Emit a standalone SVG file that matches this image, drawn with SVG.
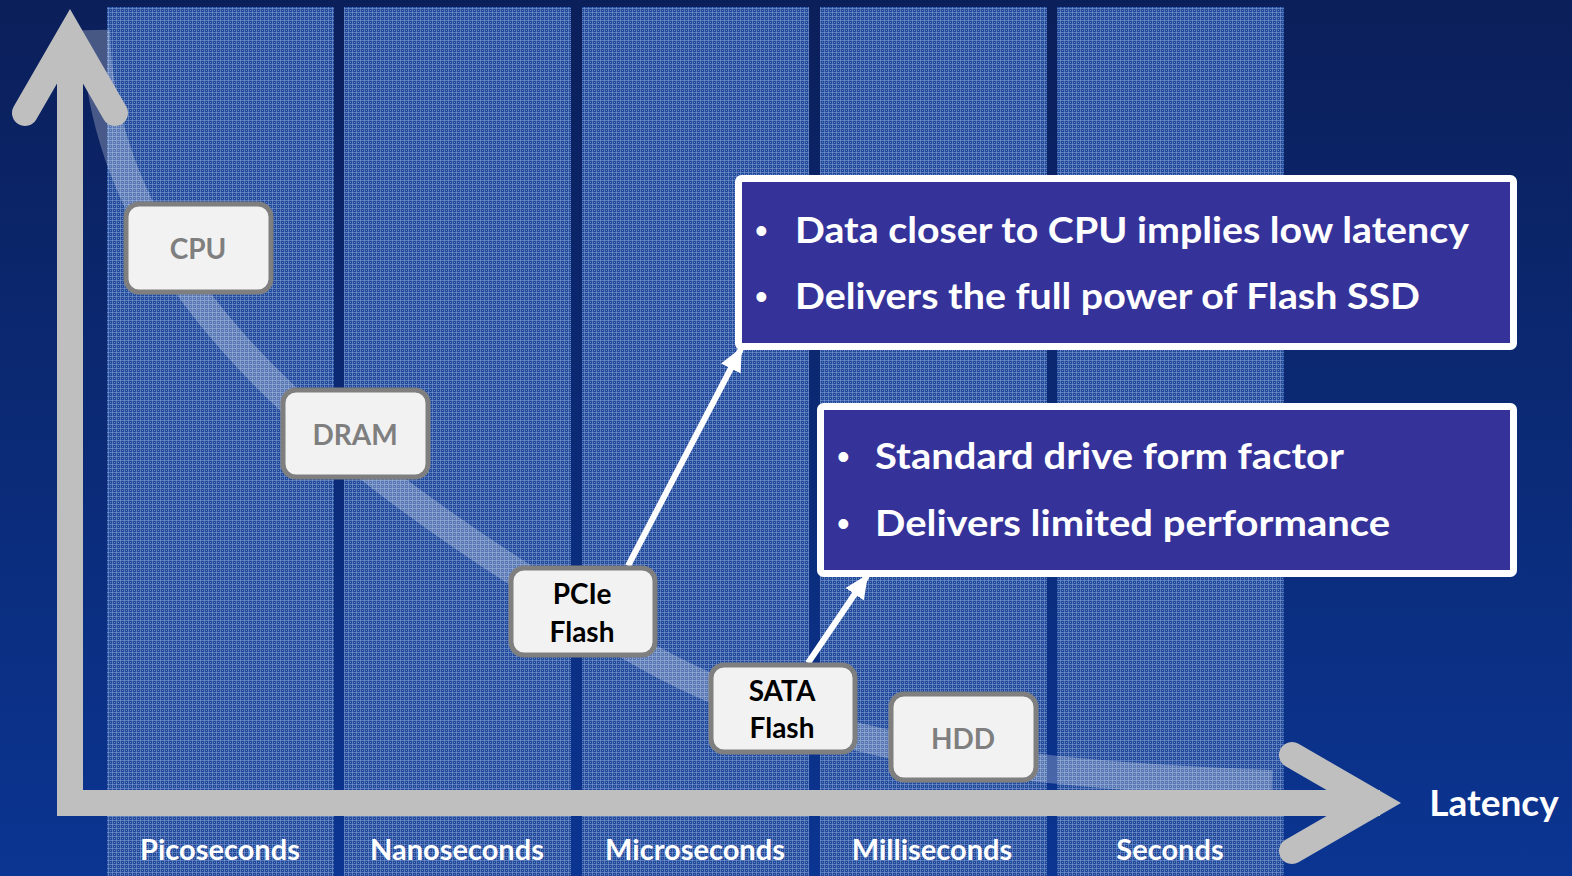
<svg xmlns="http://www.w3.org/2000/svg" width="1572" height="876" viewBox="0 0 1572 876">
<defs>
<linearGradient id="bg" x1="0" y1="0" x2="0" y2="1">
<stop offset="0" stop-color="#0b1f5a"/>
<stop offset="1" stop-color="#0b3592"/>
</linearGradient>
<pattern id="mesh" patternUnits="userSpaceOnUse" width="4" height="4">
<rect width="4" height="4" fill="#224a9a"/>
<rect x="0" y="0" width="4" height="1" fill="#87a3d6" opacity="0.55"/>
<rect x="0" y="0" width="1" height="4" fill="#87a3d6" opacity="0.55"/>
<rect x="2" y="2" width="1" height="1" fill="#a8bde3" opacity="0.5"/>
</pattern>
<marker id="ah" markerUnits="userSpaceOnUse" markerWidth="24" markerHeight="22" refX="22" refY="11" orient="auto">
<path d="M0,0 L24,11 L0,22 Z" fill="#ffffff"/>
</marker>
<style>
.col{fill:url(#mesh)}
.axis{fill:none;stroke:#bfbfbf;stroke-width:26}
.head{fill:none;stroke:#bfbfbf;stroke-width:26;stroke-linecap:round;stroke-linejoin:miter;stroke-miterlimit:4}
.node rect{fill:#f2f2f2;stroke:#7f7f7f;stroke-width:5}
.nt{font-family:Lato,"Open Sans",sans-serif;font-weight:bold;font-size:28px;text-anchor:middle}
.grey{fill:#7f7f7f}
.blk{fill:#000000}
.lbl{font-family:Lato,"Open Sans",sans-serif;font-weight:bold;font-size:29px;fill:#ffffff;text-anchor:middle}
.box rect{fill:#35339a;stroke:#ffffff;stroke-width:7}
.bt{font-family:Lato,"Open Sans",sans-serif;font-weight:bold;font-size:37px;fill:#ffffff}
.bul{font-family:"Liberation Sans",Arial,sans-serif;font-size:36px;fill:#ffffff}
.conn{fill:none;stroke:#ffffff;stroke-width:6;marker-end:url(#ah)}
</style>
</defs>
<rect width="1572" height="876" fill="url(#bg)"/>
<g id="columns">
<rect class="col" x="107" y="7" width="227" height="869"/>
<rect class="col" x="344" y="7" width="227" height="869"/>
<rect class="col" x="582" y="7" width="227" height="869"/>
<rect class="col" x="820" y="7" width="227" height="869"/>
<rect class="col" x="1057" y="7" width="227" height="869"/>
</g>
<g id="band">
<path d="M96,30 C100,260 300,440 560,600 C740,735 950,772 1272,784" fill="none" stroke="#ffffff" stroke-opacity="0.25" stroke-width="28"/>
</g>
<g id="axes">
<line class="axis" x1="70" y1="60" x2="70" y2="816"/>
<polyline class="head" points="25,113 70,35 115,113"/>
<line class="axis" x1="57" y1="803" x2="1380" y2="803"/>
<polyline class="head" points="1292,755 1375,803 1292,851"/>
</g>
<g id="connectors">
<line class="conn" x1="628" y1="566" x2="741" y2="349"/>
<line class="conn" x1="808" y1="663" x2="867" y2="576"/>
</g>
<g id="cpu" class="node"><rect x="126" y="204" width="145" height="88" rx="13"/><text class="nt grey" x="198" y="259">CPU</text></g>
<g id="dram" class="node"><rect x="283" y="390" width="145" height="87" rx="13"/><text class="nt grey" x="355" y="445">DRAM</text></g>
<g id="pcie" class="node"><rect x="511" y="568" width="144" height="87" rx="13"/><text class="nt blk" x="582" y="604">PCIe</text><text class="nt blk" x="582" y="642">Flash</text></g>
<g id="sata" class="node"><rect x="711" y="665" width="144" height="87" rx="13"/><text class="nt blk" x="782" y="701">SATA</text><text class="nt blk" x="782" y="738">Flash</text></g>
<g id="hdd" class="node"><rect x="891" y="694" width="145" height="86" rx="13"/><text class="nt grey" x="963" y="749">HDD</text></g>
<g id="box1" class="box"><rect x="738.5" y="178.5" width="775" height="168" rx="3"/>
<text class="bul" x="755" y="243">•</text><text class="bt" x="795" y="243" textLength="674" lengthAdjust="spacingAndGlyphs">Data closer to CPU implies low latency</text>
<text class="bul" x="755" y="309">•</text><text class="bt" x="795" y="309" textLength="625" lengthAdjust="spacingAndGlyphs">Delivers the full power of Flash SSD</text></g>
<g id="box2" class="box"><rect x="820.5" y="406.5" width="693" height="167" rx="3"/>
<text class="bul" x="837" y="469">•</text><text class="bt" x="875" y="469" textLength="469" lengthAdjust="spacingAndGlyphs">Standard drive form factor</text>
<text class="bul" x="837" y="536">•</text><text class="bt" x="875" y="536" textLength="515" lengthAdjust="spacingAndGlyphs">Delivers limited performance</text></g>
<g id="labels">
<text class="lbl" x="220" y="860">Picoseconds</text>
<text class="lbl" x="457" y="860">Nanoseconds</text>
<text class="lbl" x="695" y="860">Microseconds</text>
<text class="lbl" x="932" y="860">Milliseconds</text>
<text class="lbl" x="1170" y="860">Seconds</text>
<text class="lbl" x="1494" y="816" style="font-size:37px">Latency</text>
</g>
</svg>
